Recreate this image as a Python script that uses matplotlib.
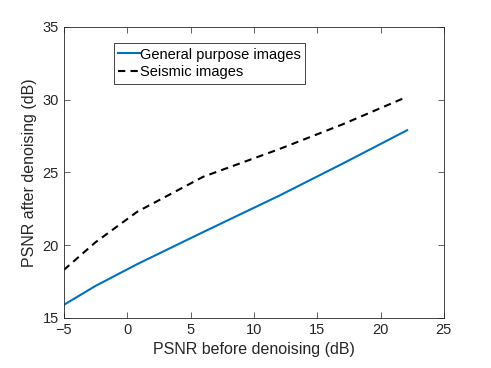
import numpy as np
import matplotlib
matplotlib.use('Agg')
import matplotlib.pyplot as plt

# PSNR before denoising (dB)
x_in = [-5, -2.5, 0.8, 6, 12, 17, 22.1]
# PSNR after denoising (dB)
general = [15.9, 17.2, 18.7, 20.9, 23.4, 25.6, 27.9]
seismic = [18.3, 20.2, 22.3, 24.7, 26.6, 28.3, 30.2]

plt.rcParams['font.family'] = ['Liberation Sans', 'DejaVu Sans']

fig = plt.figure(figsize=(4.91, 3.68), dpi=100)
ax = fig.add_axes([0.130, 0.136, 0.774, 0.791])

ax.plot(x_in, general, color='#0072BD', lw=1.5, label='General purpose images')
ax.plot(x_in, seismic, color='black', lw=1.5, ls=(0, (3.5, 2.5)), label='Seismic images')

ax.set_xlim(-5, 25)
ax.set_ylim(15, 35)
ax.set_xticks(np.arange(-5, 26, 5))
ax.set_yticks(np.arange(15, 36, 5))
ax.tick_params(direction='in', top=True, right=True, labelsize=10.5,
               colors='#262626', length=4, width=0.5)
for s in ax.spines.values():
    s.set_linewidth(0.6)
    s.set_color('#262626')

ax.set_xlabel('PSNR before denoising (dB)', fontsize=11.5, color='#262626')
ax.set_ylabel('PSNR after denoising (dB)', fontsize=11.5, color='#262626')

leg = ax.legend(loc='upper left', bbox_to_anchor=(0.132, 0.944), fontsize=10.5,
                fancybox=False, framealpha=1, edgecolor='#262626',
                handlelength=1.45, handletextpad=0.05, borderpad=0.3,
                labelspacing=0.25, borderaxespad=0)
leg.get_frame().set_linewidth(0.6)

fig.savefig('out.png', dpi=100)
